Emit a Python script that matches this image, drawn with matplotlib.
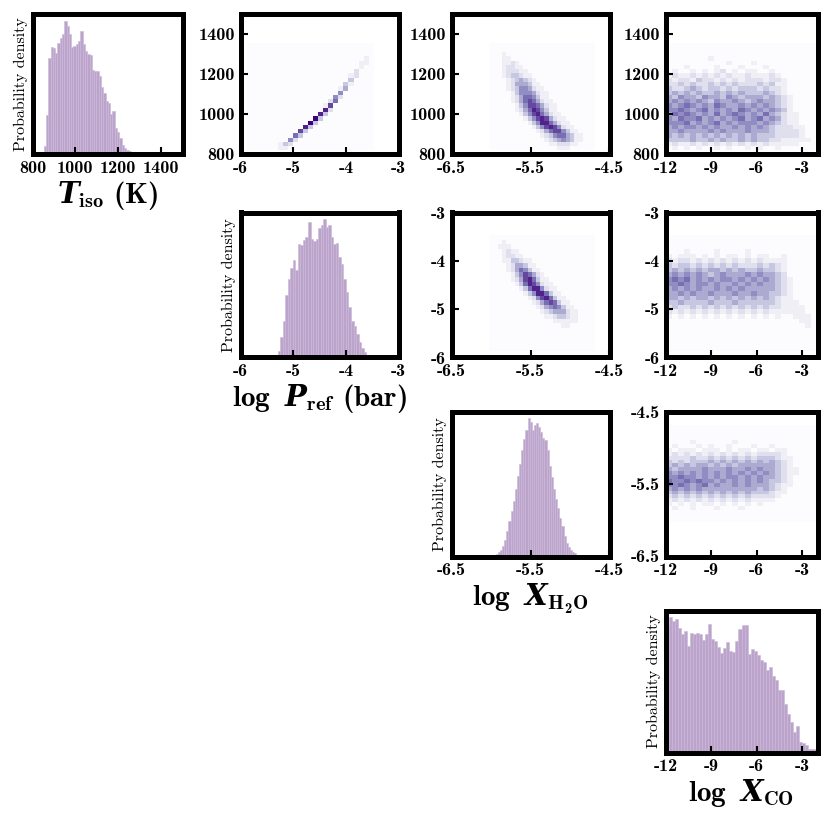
import numpy as np
import matplotlib
matplotlib.use('Agg')
import matplotlib.pyplot as plt
from matplotlib.colors import Normalize

plt.rcParams['mathtext.fontset'] = 'custom'
plt.rcParams['mathtext.rm'] = 'cmb10'
plt.rcParams['mathtext.bf'] = 'cmb10'
plt.rcParams['mathtext.it'] = 'DejaVu Serif:italic:bold'
plt.rcParams['axes.unicode_minus'] = False

# ---------------- data ----------------
names = ['T', 'P', 'W', 'C']
sample_ranges = {'T': [820.0, 1355.0], 'P': [-5.87, -3.47],
                 'W': [-6.02, -4.68], 'C': [-12.0, -2.0]}
axis_limits = {'T': [800, 1500], 'P': [-6, -3], 'W': [-6.5, -4.5], 'C': [-12, -2]}
tick_values = {'T': [800, 1000, 1200, 1400], 'P': [-6, -5, -4, -3],
               'W': [-6.5, -5.5, -4.5], 'C': [-12, -9, -6, -3]}
tick_labels = {'T': ['800', '1000', '1200', '1400'], 'P': ['-6', '-5', '-4', '-3'],
               'W': ['-6.5', '-5.5', '-4.5'], 'C': ['-12', '-9', '-6', '-3']}
axis_titles = {'T': r'$T_{\mathrm{iso}}\ (\mathrm{K})$',
               'P': r'$\log\ P_{\mathrm{ref}}\ (\mathrm{bar})$',
               'W': r'$\log\ X_{\mathrm{H_2O}}$',
               'C': r'$\log\ X_{\mathrm{CO}}$'}

T_counts = [0, 3, 6, 25, 120, 295, 328, 325, 310, 340, 355, 370, 408, 393, 368, 328, 333,
            338, 348, 378, 338, 318, 308, 303, 258, 256, 254, 240, 208, 188, 165, 158,
            125, 133, 80, 68, 50, 30, 20, 15, 10, 6, 3, 2, 1, 1, 0, 0, 0, 0]
P_counts = [0, 0, 0, 0, 0, 0, 0, 0, 0, 0, 2, 4, 20, 60, 110, 185, 235, 268, 292, 262,
            340, 336, 350, 360, 405, 355, 348, 353, 385, 395, 412, 390, 395, 360, 338,
            342, 300, 280, 235, 195, 150, 108, 95, 70, 45, 28, 15, 5, 2, 1]
W_counts = [0, 0, 2, 6, 12, 20, 30, 48, 75, 105, 135, 165, 200, 240, 275, 315, 350, 375,
            410, 400, 375, 390, 395, 385, 370, 352, 347, 315, 270, 235, 200, 172, 145,
            115, 90, 62, 40, 28, 20, 14, 9, 5, 3, 1, 0, 0, 0, 0, 0, 0]
C_counts = [387, 414, 402, 410, 382, 364, 372, 327, 367, 362, 367, 362, 344, 362, 394,
            347, 342, 322, 304, 320, 337, 310, 307, 342, 377, 390, 390, 302, 317, 312,
            297, 282, 277, 252, 262, 235, 222, 192, 190, 147, 117, 92, 62, 82, 32, 30,
            22, 12, 10, 10]
counts_1d = {'T': T_counts, 'P': P_counts, 'W': W_counts, 'C': C_counts}

# 2-D density grids (x = column parameter, y = row parameter), rows listed top -> bottom
grid_T_P = [
    "0000000000000000000000000", "0000000000000000000000000", "0000000000000000000000000",
    "0000000000000000000000010", "0000000000000000000000110", "0000000000000000000000100",
    "0000000000000000000002000", "0000000000000000000012000", "0000000000000000000030000",
    "0000000000000000000310000", "0000000000000000001400000", "0000000000000000005000000",
    "0000000000000000052000000", "0000000000000000260000000", "0000000000000001700000000",
    "0000000000000008200000000", "0000000000000083000000000", "0000000000000930000000000",
    "0000000000009300000000000", "0000000000083000000000000", "0000000000730000000000000",
    "0000000006300000000000000", "0000000052000000000000000", "0000001320000000000000000",
    "0000001100000000000000000"]
grid_T_W = [
    "0000000000000000000000000", "0000000000000000000000000", "0001000000000000000000000",
    "0001100000000000000000000", "0001121000000000000000000", "0001221100000000000000000",
    "0001222110000000000000000", "0001233211000000000000000", "0000123432100000000000000",
    "0000124443110000000000000", "0000123554211000000000000", "0000013555421100000000000",
    "0000012466531100000000000", "0000012467642110000000000", "0000001357764211000000000",
    "0000001246875311000000000", "0000000135786421100000000", "0000000013578742110000000",
    "0000000001358864211000000", "0000000000135787521100000", "0000000000012467753110000",
    "0000000000001235664311000", "0000000000000123454311000", "0000000000000011222110000",
    "0000000000000000111000000"]
grid_T_C = [
    "0000000000000000000000000", "0000000000000000000000000", "0000000000000000000000000",
    "0000000100000000000000000", "0000000000100010000000000", "0001000010001000100000000",
    "0100101012010110010000000", "1211212121211211121000000", "2122132212121222122100000",
    "2232322323232223231100000", "3223432332323332322100000", "3434343343434333432100000",
    "4354435443543444343210000", "4545454354454345443210000", "5456545465445454543210000",
    "5565456454546545454310000", "4656545464565454643211000", "5465564545456456454211000",
    "5556454564545554543211000", "4545545454454545432221100", "4454444545444544432222100",
    "4343434343434343332222100", "3333433434334343322111110", "1211212121212121211111000",
    "0101010010100101001000000"]
grid_P_W = [
    "0000000000000000000000000", "0001000000000000000000000", "0011100000000000000000000",
    "0001211000000000000000000", "0001221100000000000000000", "0001133211000000000000000",
    "0000124431100000000000000", "0000124653110000000000000", "0000013576421000000000000",
    "0000012478631100000000000", "0000001368752110000000000", "0000000136885211000000000",
    "0000000013588631100000000", "0000000001257863110000000", "0000000000124676311000000",
    "0000000000012456531100000", "0000000000001234442110000", "0000000000000112332110000",
    "0000000000000001111110000", "0000000000000000011000000", "0000000000000000000000000",
    "0000000000000000000000000", "0000000000000000000000000", "0000000000000000000000000",
    "0000000000000000000000000"]
grid_P_C = [
    "0000000000000000000000000", "0000000000000000000000000", "0000000000000000000000000",
    "0001000010000100000000000", "1011101010110101100100000", "2122121212121212111100000",
    "3233232323232223232100000", "3434343443434334332100000", "4545454345444545443200000",
    "5656454545545454543210000", "5565455454454545443210000", "4545454454545444443210000",
    "4454544544454454433210000", "4434344343434343432110000", "3343333433343333332111000",
    "2322323232323232322111100", "2121212121212121211111100", "1010101010101010101001110",
    "0000000000000000000000110", "0000000000000000000000010", "0000000000000000000000000",
    "0000000000000000000000000", "0000000000000000000000000", "0000000000000000000000000",
    "0000000000000000000000000"]
grid_W_C = [
    "0000000000000000000000000", "0000000000000000000000000", "0000000000000000000000000",
    "0000000000000000000000000", "0000100000010000000000000", "0100010100100010010000000",
    "1011101110101101101100000", "1212121212121212222100000", "2222322323232323332110000",
    "3232333434343434343210000", "3434344343434444443210000", "4344445444544545443211000",
    "5454545454545454543211000", "5565545454554545443210000", "6556565545454545433210000",
    "5565456454454544432110000", "4545454444444443432100000", "3434343434343433321100000",
    "2323232323232322221000000", "1212121212121211110000000", "1010101101010101000000000",
    "0100100010001000000000000", "0000000000000000000000000", "0000000000000000000000000",
    "0000000000000000000000000"]
grids_2d = {(0, 1): grid_T_P, (0, 2): grid_T_W, (0, 3): grid_T_C,
            (1, 2): grid_P_W, (1, 3): grid_P_C, (2, 3): grid_W_C}

# ---------------- layout ----------------
W_PX = 830.0
col_px = [(32.5, 182.5), (240.5, 398.5), (451.5, 609.5), (665.5, 817.5)]
row_px = [(14.5, 154.5), (212.5, 357.5), (411.5, 556.5), (610.5, 752.5)]

hist_face = '#bca3cb'
hist_edge = '#cbb9d7'
cmap = plt.get_cmap('Purples')
norm = Normalize(vmin=0, vmax=9)
TICK_FS = 13
LABEL_FS = 21

fig = plt.figure(figsize=(8.3, 8.3), dpi=100)


def make_axes(r, c):
    x0, x1 = col_px[c]
    y0, y1 = row_px[r]
    return fig.add_axes([x0 / W_PX, 1 - y1 / W_PX, (x1 - x0) / W_PX, (y1 - y0) / W_PX])


def style(ax):
    for s in ax.spines.values():
        s.set_linewidth(3.6)
        s.set_color('black')
    ax.tick_params(direction='in', length=5, width=1.5, top=False, right=False,
                   colors='black')
    ax.tick_params(axis='x', pad=5)
    ax.tick_params(axis='y', pad=4)


for r in range(4):
    for c in range(r, 4):
        ax = make_axes(r, c)
        xn = names[c]
        if r == c:
            lo, hi = sample_ranges[xn]
            counts = np.array(counts_1d[xn], dtype=float)
            edges = np.linspace(lo, hi, len(counts) + 1)
            ax.bar(edges[:-1], counts, width=np.diff(edges), align='edge',
                   color=hist_face, edgecolor=hist_edge, linewidth=0.4)
            ax.set_xlim(axis_limits[xn])
            ax.set_yticks([])
            ax.set_ylabel('Probability density', fontfamily='cmr10', fontsize=11.5,
                          labelpad=3)
            ax.set_xlabel(axis_titles[xn], fontsize=LABEL_FS, labelpad=2)
        else:
            yn = names[r]
            grid = grids_2d[(r, c)]
            vals = np.array([[int(ch) for ch in row.ljust(25, '0')[:25]] for row in grid],
                            dtype=float)[::-1]
            xe = np.linspace(sample_ranges[xn][0], sample_ranges[xn][1], vals.shape[1] + 1)
            ye = np.linspace(sample_ranges[yn][0], sample_ranges[yn][1], vals.shape[0] + 1)
            ax.pcolormesh(xe, ye, vals, cmap=cmap, norm=norm, shading='flat',
                          edgecolors='none', antialiased=False)
            ax.set_xlim(axis_limits[xn])
            ax.set_ylim(axis_limits[yn])
            ax.set_yticks(tick_values[yn], tick_labels[yn], fontfamily='cmb10',
                          fontsize=TICK_FS)
        ax.set_xticks(tick_values[xn], tick_labels[xn], fontfamily='cmb10',
                      fontsize=TICK_FS)
        style(ax)

fig.savefig('out.png', dpi=100)
